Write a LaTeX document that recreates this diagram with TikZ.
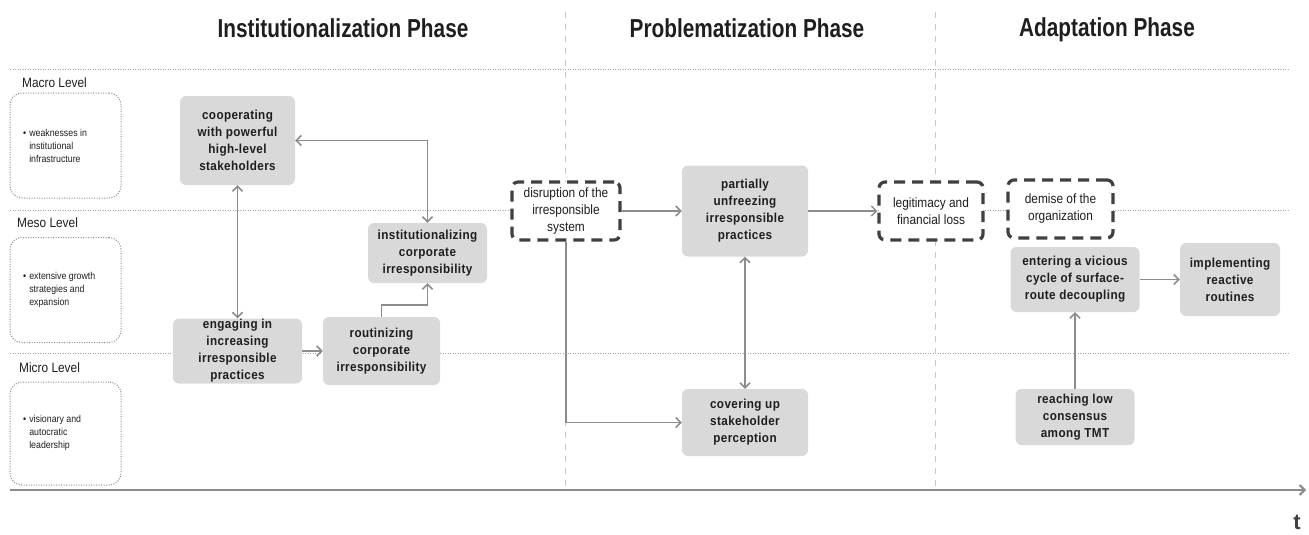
\documentclass[tikz,border=0pt]{standalone}
\usepackage{fontspec}
\setmainfont{Liberation Sans}
\newfontfamily\narrowsf[FakeStretch=0.88]{Liberation Sans}
\newfontfamily\titlesf[FakeStretch=0.8]{Liberation Sans}
\newfontfamily\boxsf[FakeStretch=0.9,LetterSpace=3]{Liberation Sans}
\usetikzlibrary{arrows.meta}

\definecolor{boxgray}{RGB}{217,217,217}
\definecolor{arrowgray}{RGB}{140,140,140}
\definecolor{framegray}{RGB}{64,64,64}
\definecolor{linegray}{RGB}{165,165,165}
\definecolor{phasegray}{RGB}{200,200,200}
\definecolor{textdark}{RGB}{30,30,30}

\tikzset{
  phase/.style={font=\titlesf\bfseries\fontsize{26}{30}\selectfont,text=textdark},
  level/.style={anchor=west,inner sep=0pt,font=\narrowsf\fontsize{13.5}{16}\selectfont,text=textdark},
  levelbox/.style={draw=arrowgray,line width=1pt,dash pattern=on 1pt off 1.5pt,rounded corners=12pt,
    minimum width=111pt,minimum height=105pt},
  cause/.style={anchor=west,inner sep=0pt,align=left,font=\narrowsf\fontsize{10}{13.3}\selectfont,text=textdark},
  mech/.style={fill=boxgray,rounded corners=6pt,align=center,inner sep=0pt,
    font=\boxsf\bfseries\fontsize{13}{17}\selectfont,text=textdark},
  event/.style={draw=framegray,fill=white,line width=3.2pt,dash pattern=on 11pt off 7pt,
    rounded corners=6pt,align=center,inner sep=0pt,
    font=\narrowsf\fontsize{13.5}{17}\selectfont,text=textdark},
  flow/.style={draw=arrowgray,line width=1.5pt},
  grid/.style={draw=linegray,line width=1pt,dash pattern=on 1pt off 1.5pt},
  phaseline/.style={draw=phasegray,line width=1pt,dash pattern=on 6pt off 6pt},
  >={Straight Barb[length=5pt,width=10pt]},
}

\begin{document}
\begin{tikzpicture}[x=1pt,y=-1pt]
\useasboundingbox (0,0) rectangle (1309,535);

% phases and grid
\node[phase] (ph1) at (343,28) {Institutionalization Phase};
\node[phase] (ph2) at (747,28) {Problematization Phase};
\node[phase] (ph3) at (1107,30) {Adaptation Phase};
\draw[grid] (10,70) -- (1288,70);
\draw[grid] (10,210) -- (1288,210);
\draw[grid] (10,353) -- (1288,353);
\draw[phaseline] (565,12) -- (565,488);
\draw[phaseline] (935,12) -- (935,488);
\coordinate (t0) at (10,490);
\coordinate (t1) at (1306,490);
\draw[arrowgray,line width=2pt,->] (t0) -- (t1);
\node[font=\bfseries\fontsize{22}{24}\selectfont,text=framegray] (t) at (1297,522) {t};

% levels
\node[level] (macro) at (22,83) {Macro Level};
\node[levelbox] (macrobox) at (65.5,145.5) {};
\node[cause] (macrocause) at (23,147) {\begin{tabular}{@{}l@{\hspace{3pt}}l@{}}\textbullet & weaknesses in\\ & institutional\\ & infrastructure\end{tabular}};
\node[level] (meso) at (17,223) {Meso Level};
\node[levelbox] (mesobox) at (65.5,290) {};
\node[cause] (mesocause) at (23,290) {\begin{tabular}{@{}l@{\hspace{3pt}}l@{}}\textbullet & extensive growth\\ & strategies and\\ & expansion\end{tabular}};
\node[level] (micro) at (19,368) {Micro Level};
\node[levelbox,minimum height=103pt] (microbox) at (65.5,433.5) {};
\node[cause] (microcause) at (23,433) {\begin{tabular}{@{}l@{\hspace{3pt}}l@{}}\textbullet & visionary and\\ & autocratic\\ & leadership\end{tabular}};

% institutionalization
\node[mech,minimum width=115pt,minimum height=89pt] (coop) at (237.5,140.5)
  {cooperating\\with powerful\\high-level\\stakeholders};
\node[mech,minimum width=119pt,minimum height=60pt] (inst) at (427.5,253)
  {institutionalizing\\corporate\\irresponsibility};
\node[mech,minimum width=129pt,minimum height=65pt] (eng) at (237.5,351)
  {engaging in\\increasing\\irresponsible\\practices}
  edge [flow,<->] (coop)
;
\node[mech,minimum width=117pt,minimum height=68pt] (rout) at (381.5,351)
  {routinizing\\corporate\\irresponsibility}
  edge [flow,<-] (eng)
;
\draw[flow,<->] (coop.east) -| (inst.north);
\draw[flow,->] (rout.north) -- ++(0,-12) -| (inst.south);

% problematization
\node[event,minimum width=108pt,minimum height=58pt] (dis) at (566,211)
  {disruption of the\\irresponsible\\system};
\node[mech,minimum width=126pt,minimum height=91pt] (part) at (745,211)
  {partially\\unfreezing\\irresponsible\\practices}
  edge [flow,<-] (dis)
;
\node[mech,minimum width=126pt,minimum height=67pt] (cov) at (745,422.5)
  {covering up\\stakeholder\\perception}
  edge [flow,<->] (part)
;
\draw[flow,->] (dis.south) |- (cov.west);

% adaptation
\node[event,minimum width=104pt,minimum height=58pt] (loss) at (931,211)
  {legitimacy and\\financial loss}
  edge [flow,<-] (part)
;
\node[event,minimum width=105pt,minimum height=58pt] (demise) at (1060.5,209)
  {demise of the\\organization};
\node[mech,minimum width=129pt,minimum height=65pt] (cycle) at (1075,279.5)
  {entering a vicious\\cycle of surface-\\route decoupling};
\node[mech,minimum width=100pt,minimum height=73pt] (react) at (1230,279.5)
  {implementing\\reactive\\routines}
  edge [flow,<-] (cycle)
;
\node[mech,minimum width=119pt,minimum height=56pt] (tmt) at (1075,417)
  {reaching low\\consensus\\among TMT}
  edge [flow,->] (cycle)
;
\end{tikzpicture}
\end{document}
